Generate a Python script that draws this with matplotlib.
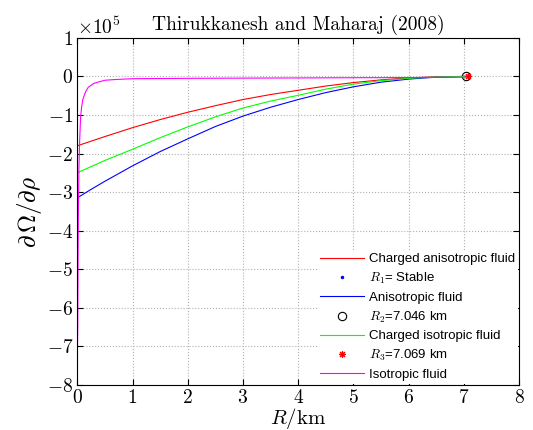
"""dOmega/drho against R for the Thirukkanesh and Maharaj (2008) model"""

import matplotlib
matplotlib.use('Agg')
import matplotlib.pyplot as plt
from matplotlib.ticker import ScalarFormatter

plt.rcParams['font.family'] = 'serif'
plt.rcParams['font.serif'] = ['cmr10']
plt.rcParams['mathtext.fontset'] = 'cm'
plt.rcParams['axes.formatter.use_mathtext'] = True

# Radius (km) and dOmega/drho
r_aniso = [0, 0.25, 0.5, 1, 1.5, 2, 2.5, 3, 3.5, 4, 4.5, 5, 5.5, 6, 6.5, 7.04]
charged_aniso = [-1.8e5, -1.68e5, -1.56e5, -1.33e5, -1.12e5, -0.93e5, -0.76e5, -0.6e5,
                 -0.47e5, -0.36e5, -0.25e5, -0.16e5, -0.09e5, -0.04e5, -0.01e5, 0]
aniso = [-3.15e5, -2.93e5, -2.72e5, -2.32e5, -1.95e5, -1.62e5, -1.3e5, -1.03e5,
         -0.8e5, -0.6e5, -0.42e5, -0.27e5, -0.15e5, -0.07e5, -0.02e5, 0]
charged_iso = [-2.5e5, -2.34e5, -2.18e5, -1.89e5, -1.59e5, -1.31e5, -1.05e5, -0.82e5,
               -0.64e5, -0.49e5, -0.33e5, -0.2e5, -0.11e5, -0.05e5, -0.015e5, 0]

r_iso = [0.001, 0.008, 0.015, 0.02, 0.03, 0.04, 0.06, 0.08, 0.1, 0.15, 0.2, 0.3,
         0.5, 0.7, 1, 2, 3, 4, 5, 6, 7.04]
iso = [-7.2e5, -6.5e5, -4.5e5, -3.5e5, -2.4e5, -1.8e5, -1.05e5, -0.78e5, -0.6e5,
       -0.4e5, -0.28e5, -0.18e5, -0.1e5, -0.08e5, -0.06e5, -0.05e5, -0.045e5,
       -0.04e5, -0.035e5, -0.03e5, -0.02e5]

r2 = 7.046
r3 = 7.069

fig = plt.figure(figsize=(5.33, 4.30), dpi=100)
ax = fig.add_axes([0.145, 0.105, 0.829, 0.807])

ax.plot(r_aniso, charged_aniso, color=(1, 0, 0), lw=0.8, label='Charged anisotropic fluid')
ax.plot([], [], 'b.', ms=3, label=r'$R_1$= Stable')
ax.plot(r_aniso, aniso, color=(0, 0, 1), lw=0.8, label='Anisotropic fluid')
ax.plot([r2], [0], 'o', mfc='none', mec='k', ms=6, mew=0.8, label=r'$R_2$=7.046 km')
ax.plot(r_aniso, charged_iso, color=(0, 1, 0), lw=0.8, label='Charged isotropic fluid')
ax.plot([r3], [0], ls='none', marker=(8, 2, 0), color='r', ms=5, mew=0.8,
        label=r'$R_3$=7.069 km')
ax.plot(r_iso, iso, color=(1, 0, 1), lw=0.8, label='Isotropic fluid')

ax.set_xlim(0, 8)
ax.set_ylim(-8e5, 1e5)
ax.set_xticks(range(0, 9))
ax.set_yticks([i * 1e5 for i in range(-8, 2)])
fmt = ScalarFormatter(useMathText=True)
fmt.set_powerlimits((5, 5))
ax.yaxis.set_major_formatter(fmt)
ax.yaxis.get_offset_text().set_fontsize(14)

ax.grid(True, ls=':', color='#b0b0b0', lw=0.8)
ax.tick_params(direction='in', top=True, right=True, labelsize=14, length=4, pad=3)

ax.set_title('Thirukkanesh and Maharaj (2008)', fontsize=14)
ax.set_xlabel(r'$R/\mathrm{km}$', fontsize=15, labelpad=-1)
ax.set_ylabel(r'$\partial\,\Omega/\partial\rho$', fontsize=18, labelpad=2)

leg = ax.legend(loc='lower right', prop={'family': 'Liberation Sans', 'size': 9.5},
                frameon=True, fancybox=False, edgecolor='none', framealpha=1,
                handlelength=3.3, handletextpad=0.4, labelspacing=0.42,
                borderaxespad=0.1, borderpad=0.2)

plt.savefig('out.png', dpi=100)
